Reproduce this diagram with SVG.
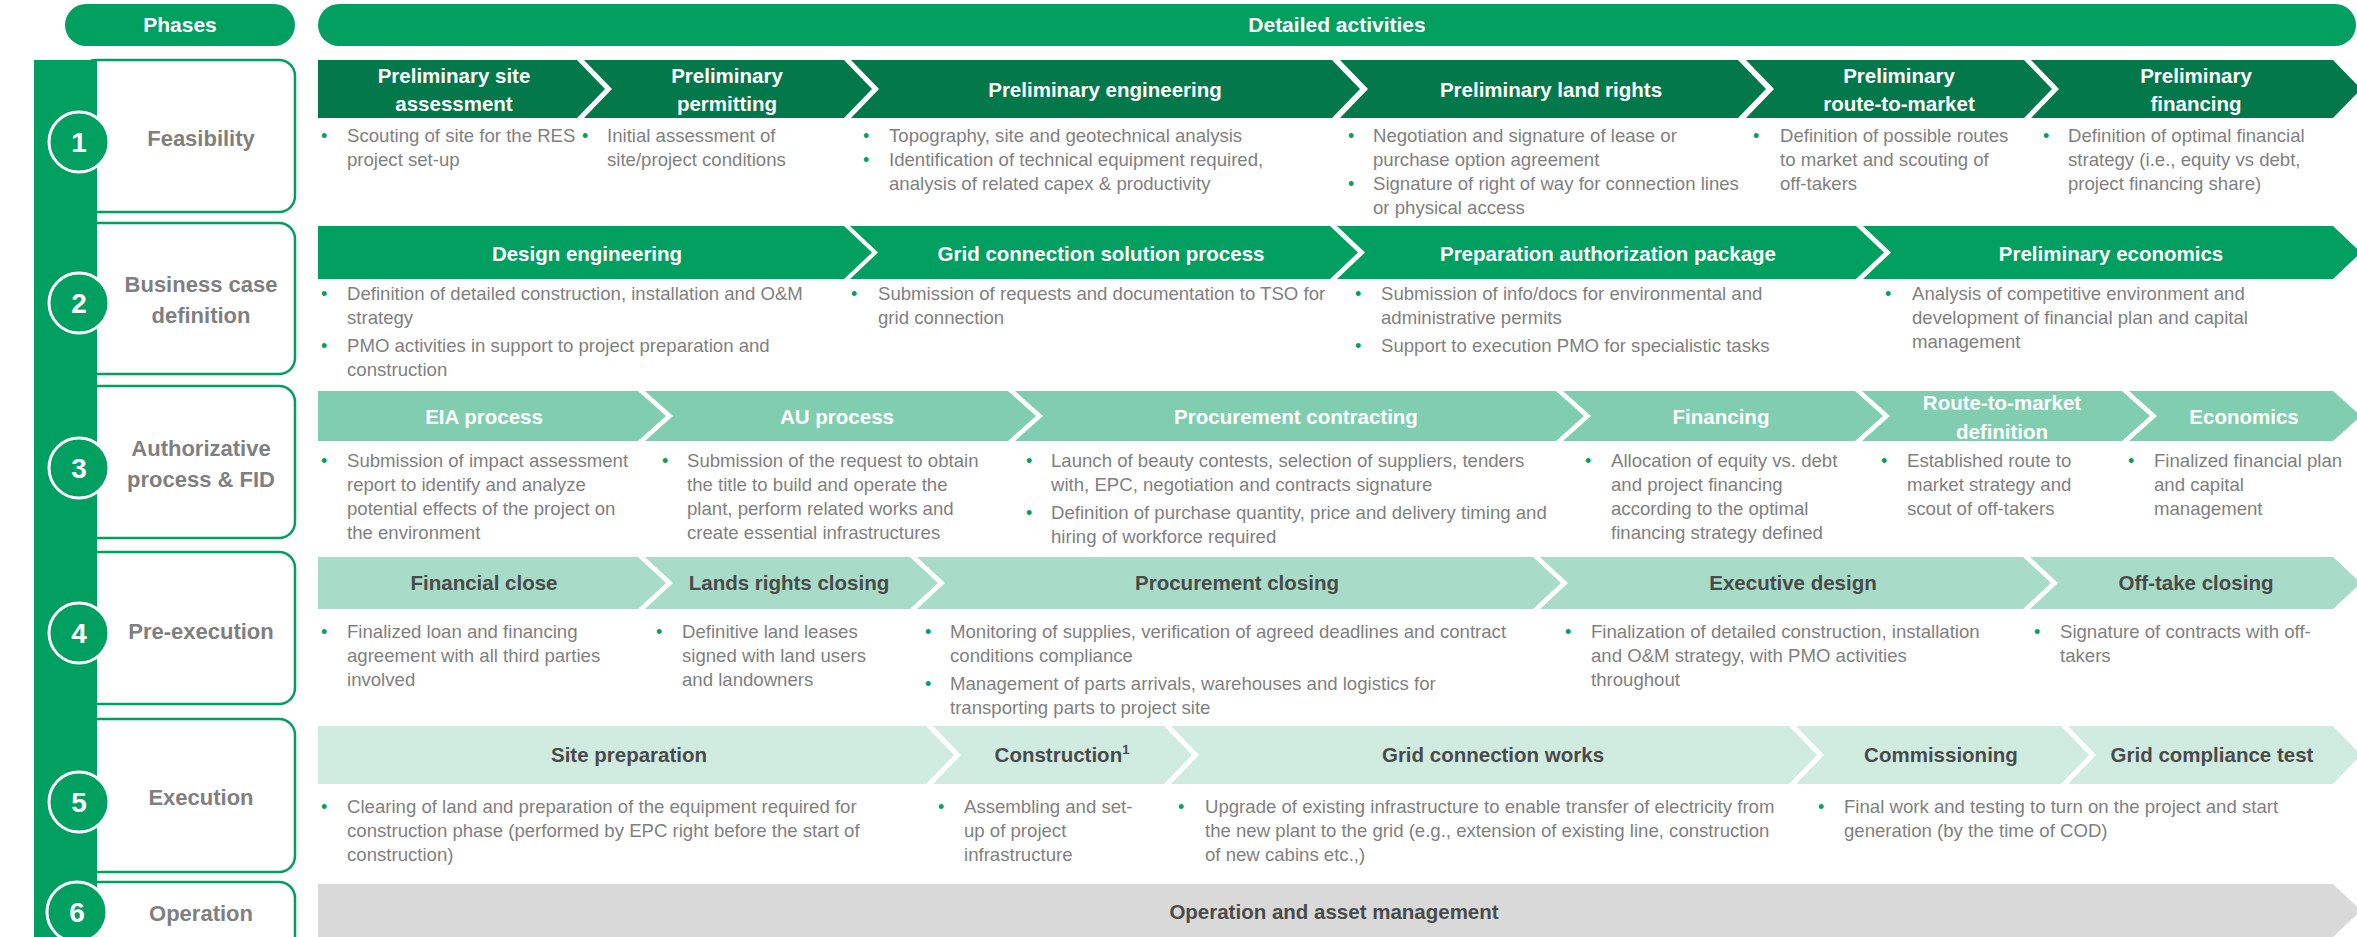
<svg xmlns="http://www.w3.org/2000/svg" width="2357" height="937" viewBox="0 0 2357 937">
<style>
text{font-family:"Liberation Sans",Arial,sans-serif}
.pill{fill:#02A060}
.pt{fill:#fff;font-weight:bold;font-size:21px;text-anchor:middle}
.box{fill:#fff;stroke:#02A060;stroke-width:2.5}
.pl{fill:#7F7F7F;font-weight:bold;font-size:22px;text-anchor:middle}
.num{fill:#fff;font-weight:bold;font-size:28px;text-anchor:middle}
.circ{fill:#02A060;stroke:#fff;stroke-width:3}
.r1{fill:#03784B}.r2{fill:#02A060}.r3{fill:#80CEAF}.r4{fill:#A8DCC8}.r5{fill:#D0ECE1}.r6{fill:#D9D9D9}
.hw{fill:#fff;font-weight:bold;font-size:20.5px;text-anchor:middle}
.hd{fill:#4A4A4A;font-weight:bold;font-size:20.5px;text-anchor:middle}
.b{fill:#7F7F7F;font-size:18.6px}
.bu{fill:#02A060;font-size:18px}
</style>

<g id="header-phases"><rect class="pill" x="65" y="4" width="230" height="42" rx="21"/><text class="pt" x="180" y="32">Phases</text></g>
<g id="header-activities"><rect class="pill" x="318" y="4" width="2038" height="42" rx="21"/><text class="pt" x="1337" y="32">Detailed activities</text></g>

<g id="phase-boxes">
<rect class="box" x="80" y="60" width="215" height="152" rx="16"/>
<rect class="box" x="80" y="223" width="215" height="151" rx="16"/>
<rect class="box" x="80" y="386" width="215" height="152" rx="16"/>
<rect class="box" x="80" y="552" width="215" height="152" rx="16"/>
<rect class="box" x="80" y="719" width="215" height="153" rx="16"/>
<rect class="box" x="80" y="882" width="215" height="90" rx="16"/>
</g>
<rect id="phase-bar" x="34" y="60" width="63" height="877" fill="#02A060"/>

<g id="phase-1"><circle class="circ" cx="79" cy="142" r="30"/><text class="num" x="79" y="152">1</text><text class="pl" x="201" y="146">Feasibility</text></g>
<g id="phase-2"><circle class="circ" cx="79" cy="303" r="30"/><text class="num" x="79" y="313">2</text><text class="pl" x="201" y="292">Business case</text><text class="pl" x="201" y="323">definition</text></g>
<g id="phase-3"><circle class="circ" cx="79" cy="468" r="30"/><text class="num" x="79" y="478">3</text><text class="pl" x="201" y="456">Authorizative</text><text class="pl" x="201" y="487">process &amp; FID</text></g>
<g id="phase-4"><circle class="circ" cx="79" cy="633" r="30"/><text class="num" x="79" y="643">4</text><text class="pl" x="201" y="639">Pre-execution</text></g>
<g id="phase-5"><circle class="circ" cx="79" cy="802" r="30"/><text class="num" x="79" y="812">5</text><text class="pl" x="201" y="805">Execution</text></g>
<g id="phase-6"><circle class="circ" cx="77" cy="912" r="30"/><text class="num" x="77" y="922">6</text><text class="pl" x="201" y="921">Operation</text></g>

<!-- Row 1 -->
<g id="r1-site-assessment">
<polygon class="r1" points="318,60 577,60 605,89 577,118 318,118"/>
<text class="hw" x="454" y="83">Preliminary site</text><text class="hw" x="454" y="111">assessment</text>
<text class="bu" x="321" y="142">•</text><text class="b" x="347" y="142">Scouting of site for the RES</text><text class="b" x="347" y="166">project set-up</text>
</g>
<g id="r1-permitting">
<polygon class="r1" points="584,60 844,60 872,89 844,118 584,118 612,89"/>
<text class="hw" x="727" y="83">Preliminary</text><text class="hw" x="727" y="111">permitting</text>
<text class="bu" x="582" y="142">•</text><text class="b" x="607" y="142">Initial assessment of</text><text class="b" x="607" y="166">site/project conditions</text>
</g>
<g id="r1-engineering">
<polygon class="r1" points="851,60 1332,60 1360,89 1332,118 851,118 879,89"/>
<text class="hw" x="1105" y="97">Preliminary engineering</text>
<text class="bu" x="863" y="142">•</text><text class="b" x="889" y="142">Topography, site and geotechnical analysis</text>
<text class="bu" x="863" y="166">•</text><text class="b" x="889" y="166">Identification of  technical equipment required,</text><text class="b" x="889" y="190">analysis of related capex &amp; productivity</text>
</g>
<g id="r1-land-rights">
<polygon class="r1" points="1340,60 1738,60 1766,89 1738,118 1340,118 1368,89"/>
<text class="hw" x="1551" y="97">Preliminary land rights</text>
<text class="bu" x="1348" y="142">•</text><text class="b" x="1373" y="142">Negotiation and signature of lease or</text><text class="b" x="1373" y="166">purchase option agreement</text>
<text class="bu" x="1348" y="190">•</text><text class="b" x="1373" y="190">Signature of right of way for connection lines</text><text class="b" x="1373" y="214">or physical access</text>
</g>
<g id="r1-route-to-market">
<polygon class="r1" points="1746,60 2024,60 2052,89 2024,118 1746,118 1774,89"/>
<text class="hw" x="1899" y="83">Preliminary</text><text class="hw" x="1899" y="111">route-to-market</text>
<text class="bu" x="1753" y="142">•</text><text class="b" x="1780" y="142">Definition of possible routes</text><text class="b" x="1780" y="166">to market and scouting of</text><text class="b" x="1780" y="190">off-takers</text>
</g>
<g id="r1-financing">
<polygon class="r1" points="2031,60 2333,60 2361,89 2333,118 2031,118 2059,89"/>
<text class="hw" x="2196" y="83">Preliminary</text><text class="hw" x="2196" y="111">financing</text>
<text class="bu" x="2043" y="142">•</text><text class="b" x="2068" y="142">Definition of optimal financial</text><text class="b" x="2068" y="166">strategy (i.e., equity vs debt,</text><text class="b" x="2068" y="190">project financing share)</text>
</g>

<!-- Row 2 -->
<g id="r2-design-engineering">
<polygon class="r2" points="318,226 844,226 872,252.5 844,279 318,279"/>
<text class="hw" x="587" y="261">Design engineering</text>
<text class="bu" x="321" y="300">•</text><text class="b" x="347" y="300">Definition of detailed construction, installation and O&amp;M</text><text class="b" x="347" y="324">strategy</text>
<text class="bu" x="321" y="352">•</text><text class="b" x="347" y="352">PMO activities in support to project preparation and</text><text class="b" x="347" y="376">construction</text>
</g>
<g id="r2-grid-connection">
<polygon class="r2" points="850,226 1330,226 1358,252.5 1330,279 850,279 878,252.5"/>
<text class="hw" x="1101" y="261">Grid connection solution process</text>
<text class="bu" x="851" y="300">•</text><text class="b" x="878" y="300">Submission of requests and documentation to TSO for</text><text class="b" x="878" y="324">grid connection</text>
</g>
<g id="r2-authorization-package">
<polygon class="r2" points="1337,226 1856,226 1884,252.5 1856,279 1337,279 1365,252.5"/>
<text class="hw" x="1608" y="261">Preparation authorization package</text>
<text class="bu" x="1355" y="300">•</text><text class="b" x="1381" y="300">Submission of info/docs for environmental and</text><text class="b" x="1381" y="324">administrative permits</text>
<text class="bu" x="1355" y="352">•</text><text class="b" x="1381" y="352">Support to execution PMO for specialistic tasks</text>
</g>
<g id="r2-economics">
<polygon class="r2" points="1863,226 2333,226 2361,252.5 2333,279 1863,279 1891,252.5"/>
<text class="hw" x="2111" y="261">Preliminary economics</text>
<text class="bu" x="1885" y="300">•</text><text class="b" x="1912" y="300">Analysis of competitive environment and</text><text class="b" x="1912" y="324">development of financial plan and capital</text><text class="b" x="1912" y="348">management</text>
</g>

<!-- Row 3 -->
<g id="r3-eia">
<polygon class="r3" points="318,391 638,391 666,416 638,441 318,441"/>
<text class="hw" x="484" y="424">EIA process</text>
<text class="bu" x="321" y="467">•</text><text class="b" x="347" y="467">Submission of impact assessment</text><text class="b" x="347" y="491">report to identify and analyze</text><text class="b" x="347" y="515">potential effects of the project on</text><text class="b" x="347" y="539">the environment</text>
</g>
<g id="r3-au">
<polygon class="r3" points="645,391 1008,391 1036,416 1008,441 645,441 673,416"/>
<text class="hw" x="837" y="424">AU process</text>
<text class="bu" x="662" y="467">•</text><text class="b" x="687" y="467">Submission of the request to obtain</text><text class="b" x="687" y="491">the title to build and operate the</text><text class="b" x="687" y="515">plant, perform related works and</text><text class="b" x="687" y="539">create essential infrastructures</text>
</g>
<g id="r3-procurement">
<polygon class="r3" points="1015,391 1556,391 1584,416 1556,441 1015,441 1043,416"/>
<text class="hw" x="1296" y="424">Procurement contracting</text>
<text class="bu" x="1026" y="467">•</text><text class="b" x="1051" y="467">Launch of beauty contests, selection of suppliers, tenders</text><text class="b" x="1051" y="491">with, EPC, negotiation and contracts signature</text>
<text class="bu" x="1026" y="519">•</text><text class="b" x="1051" y="519">Definition of purchase quantity, price and delivery timing and</text><text class="b" x="1051" y="543">hiring of workforce required</text>
</g>
<g id="r3-financing">
<polygon class="r3" points="1563,391 1855,391 1883,416 1855,441 1563,441 1591,416"/>
<text class="hw" x="1721" y="424">Financing</text>
<text class="bu" x="1585" y="467">•</text><text class="b" x="1611" y="467">Allocation of equity vs. debt</text><text class="b" x="1611" y="491">and project financing</text><text class="b" x="1611" y="515">according to the optimal</text><text class="b" x="1611" y="539">financing strategy defined</text>
</g>
<g id="r3-route-to-market">
<polygon class="r3" points="1862,391 2122,391 2150,416 2122,441 1862,441 1890,416"/>
<text class="hw" x="2002" y="410">Route-to-market</text><text class="hw" x="2002" y="439">definition</text>
<text class="bu" x="1881" y="467">•</text><text class="b" x="1907" y="467">Established route to</text><text class="b" x="1907" y="491">market strategy and</text><text class="b" x="1907" y="515">scout of off-takers</text>
</g>
<g id="r3-economics">
<polygon class="r3" points="2129,391 2333,391 2361,416 2333,441 2129,441 2157,416"/>
<text class="hw" x="2244" y="424">Economics</text>
<text class="bu" x="2128" y="467">•</text><text class="b" x="2154" y="467">Finalized financial plan</text><text class="b" x="2154" y="491">and capital</text><text class="b" x="2154" y="515">management</text>
</g>

<!-- Row 4 -->
<g id="r4-financial-close">
<polygon class="r4" points="318,557 638,557 666,583 638,609 318,609"/>
<text class="hd" x="484" y="590">Financial close</text>
<text class="bu" x="321" y="638">•</text><text class="b" x="347" y="638">Finalized loan and financing</text><text class="b" x="347" y="662">agreement with all third parties</text><text class="b" x="347" y="686">involved</text>
</g>
<g id="r4-land-rights">
<polygon class="r4" points="645,557 910,557 938,583 910,609 645,609 673,583"/>
<text class="hd" x="789" y="590">Lands rights closing</text>
<text class="bu" x="656" y="638">•</text><text class="b" x="682" y="638">Definitive land leases</text><text class="b" x="682" y="662">signed with land users</text><text class="b" x="682" y="686">and landowners</text>
</g>
<g id="r4-procurement">
<polygon class="r4" points="917,557 1533,557 1561,583 1533,609 917,609 945,583"/>
<text class="hd" x="1237" y="590">Procurement closing</text>
<text class="bu" x="925" y="638">•</text><text class="b" x="950" y="638">Monitoring of supplies, verification of agreed deadlines and contract</text><text class="b" x="950" y="662">conditions compliance</text>
<text class="bu" x="925" y="690">•</text><text class="b" x="950" y="690">Management of parts arrivals, warehouses and logistics for</text><text class="b" x="950" y="714">transporting parts to project site</text>
</g>
<g id="r4-executive-design">
<polygon class="r4" points="1540,557 2023,557 2051,583 2023,609 1540,609 1568,583"/>
<text class="hd" x="1793" y="590">Executive design</text>
<text class="bu" x="1565" y="638">•</text><text class="b" x="1591" y="638">Finalization of detailed construction, installation</text><text class="b" x="1591" y="662">and O&amp;M strategy, with PMO activities</text><text class="b" x="1591" y="686">throughout</text>
</g>
<g id="r4-off-take">
<polygon class="r4" points="2030,557 2333,557 2361,583 2333,609 2030,609 2058,583"/>
<text class="hd" x="2196" y="590">Off-take closing</text>
<text class="bu" x="2034" y="638">•</text><text class="b" x="2060" y="638">Signature of contracts with off-</text><text class="b" x="2060" y="662">takers</text>
</g>

<!-- Row 5 -->
<g id="r5-site-preparation">
<polygon class="r5" points="318,726 926,726 954,755 926,784 318,784"/>
<text class="hd" x="629" y="762">Site preparation</text>
<text class="bu" x="321" y="813">•</text><text class="b" x="347" y="813">Clearing of land and preparation of the equipment required for</text><text class="b" x="347" y="837">construction phase (performed by EPC right before the start of</text><text class="b" x="347" y="861">construction)</text>
</g>
<g id="r5-construction">
<polygon class="r5" points="933,726 1164,726 1192,755 1164,784 933,784 961,755"/>
<text class="hd" x="1062" y="762">Construction<tspan font-size="13px" dy="-8">1</tspan></text>
<text class="bu" x="938" y="813">•</text><text class="b" x="964" y="813">Assembling and set-</text><text class="b" x="964" y="837">up of project</text><text class="b" x="964" y="861">infrastructure</text>
</g>
<g id="r5-grid-works">
<polygon class="r5" points="1171,726 1789,726 1817,755 1789,784 1171,784 1199,755"/>
<text class="hd" x="1493" y="762">Grid connection works</text>
<text class="bu" x="1178" y="813">•</text><text class="b" x="1205" y="813">Upgrade of existing infrastructure to enable transfer of electricity from</text><text class="b" x="1205" y="837">the new plant to the grid (e.g., extension of existing line, construction</text><text class="b" x="1205" y="861">of new cabins etc.,)</text>
</g>
<g id="r5-commissioning">
<polygon class="r5" points="1796,726 2061,726 2089,755 2061,784 1796,784 1824,755"/>
<text class="hd" x="1941" y="762">Commissioning</text>
<text class="bu" x="1818" y="813">•</text><text class="b" x="1844" y="813">Final work and testing to turn on the project and start</text><text class="b" x="1844" y="837">generation (by the time of COD)</text>
</g>
<g id="r5-grid-compliance">
<polygon class="r5" points="2068,726 2333,726 2361,755 2333,784 2068,784 2096,755"/>
<text class="hd" x="2212" y="762">Grid compliance test</text>
</g>

<!-- Row 6 -->
<g id="r6-operation">
<polygon class="r6" points="318,884 2333,884 2361,910.5 2333,937 318,937"/>
<text class="hd" x="1334" y="919">Operation and asset management</text>
</g>

<g id="connectors"></g>
</svg>
